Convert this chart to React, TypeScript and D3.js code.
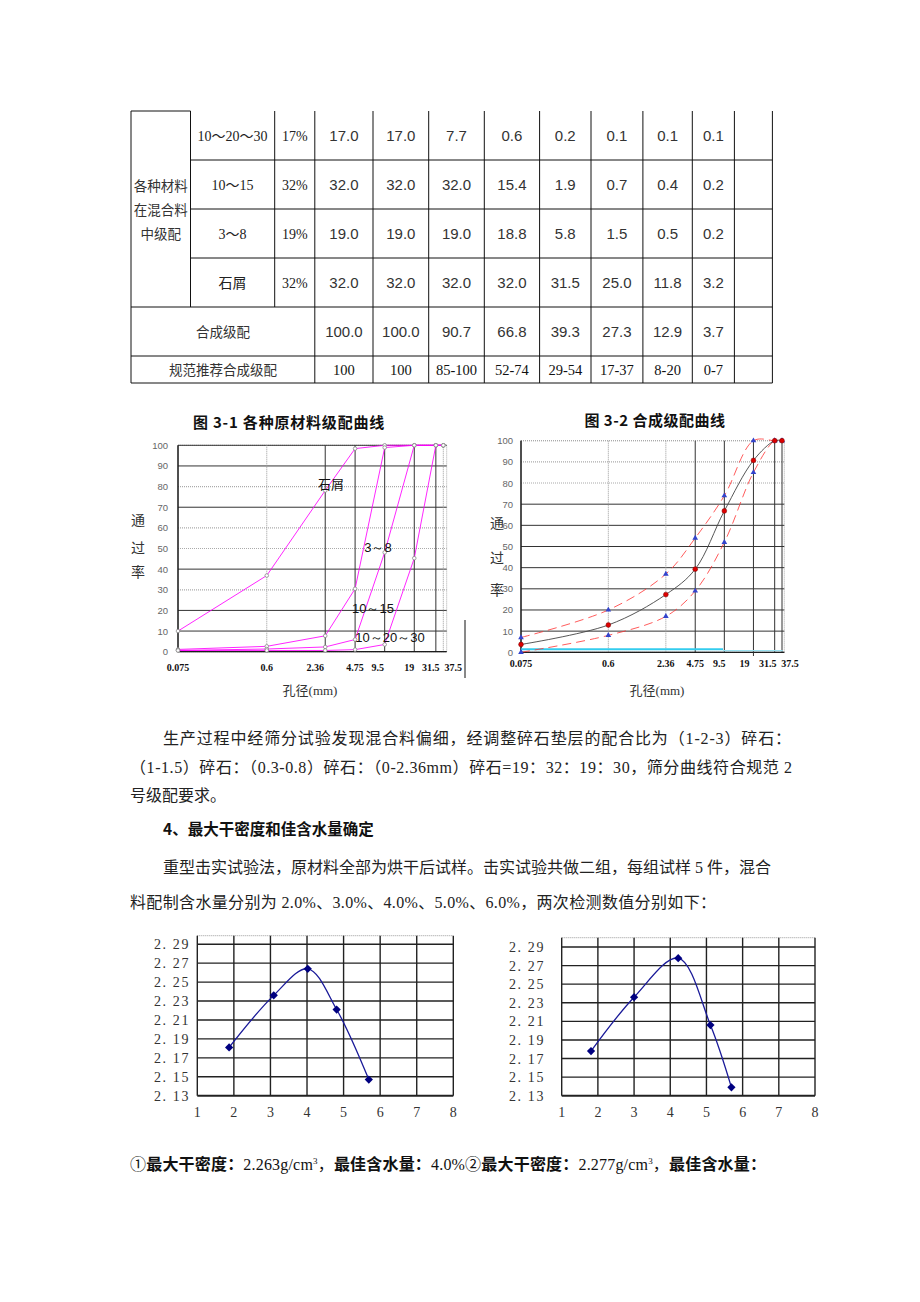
import * as d3 from 'd3';
import React from 'react';

// ---- table data ----
const materialNames = ['10～20～30', '10～15', '3～8', '石屑'];
const materialShares = ['17%', '32%', '19%', '32%'];
const materialRows = [
  ['17.0', '17.0', '7.7', '0.6', '0.2', '0.1', '0.1', '0.1'],
  ['32.0', '32.0', '32.0', '15.4', '1.9', '0.7', '0.4', '0.2'],
  ['19.0', '19.0', '19.0', '18.8', '5.8', '1.5', '0.5', '0.2'],
  ['32.0', '32.0', '32.0', '32.0', '31.5', '25.0', '11.8', '3.2'],
];
const compositeRow = ['100.0', '100.0', '90.7', '66.8', '39.3', '27.3', '12.9', '3.7'];
const specRow = ['100', '100', '85-100', '52-74', '29-54', '17-37', '8-20', '0-7'];

// ---- gradation charts (sieve sizes ascending) ----
const sieves = [0.075, 0.6, 2.36, 4.75, 9.5, 19, 31.5, 37.5];
const sieveLabels = ['0.075', '0.6', '2.36', '4.75', '9.5', '19', '31.5', '37.5'];
const pctTicks = [0, 10, 20, 30, 40, 50, 60, 70, 80, 90, 100];

const passStone = [10, 36.9, 78.1, 98.4, 100, 100, 100, 100];
const pass3to8 = [1.1, 2.6, 7.7, 30.5, 98.9, 100, 100, 100];
const pass10to15 = [0.6, 1.3, 2.3, 5.9, 48.1, 100, 100, 100];
const pass10to30 = [0.6, 0.6, 0.6, 1.0, 3.5, 45.3, 100, 100];

const passComposite = [3.7, 12.9, 27.3, 39.3, 66.8, 90.7, 100, 100];
const passUpper = [7, 20, 37, 54, 74, 100, 100, 100];
const passLower = [0, 8, 17, 29, 52, 85, 100, 100];
const cyanX = [0.075, 9.2];
const cyanY = [1.4, 1.4];
const cyanTailX = [9.2, 38.2];
const cyanTailY = [0.8, 0.8];

// ---- compaction ----
const moistureA = [1.87, 3.09, 4.02, 4.81, 5.69];
const densityA = [2.181, 2.236, 2.264, 2.221, 2.147];
const moistureB = [1.81, 3.0, 4.22, 5.11, 5.69];
const densityB = [2.178, 2.236, 2.278, 2.206, 2.139];
const moistTicks = [1, 2, 3, 4, 5, 6, 7, 8];
const densTicks = [2.13, 2.15, 2.17, 2.19, 2.21, 2.23, 2.25, 2.27, 2.29];

const serif = "'Liberation Serif', 'Noto Sans CJK SC', serif";
const cjk = "'Noto Sans CJK SC', sans-serif";
const sans = "'Liberation Sans', Arial, sans-serif";

const colX = [131, 190.5, 274.7, 314.8, 373, 428.7, 484.3, 539.6, 591, 642.9, 692.3, 734.4, 772.4];
const rowY = [111, 160, 209, 258, 307, 356, 383];

function Table() {
  const mid = (i: number) => (colX[i] + colX[i + 1]) / 2;
  const rmid = (r: number) => (rowY[r] + rowY[r + 1]) / 2;
  const lines: JSX.Element[] = [];
  const L = (x1: number, y1: number, x2: number, y2: number, k: string) =>
    lines.push(<line key={k} x1={x1} y1={y1} x2={x2} y2={y2} stroke="#111" strokeWidth={1} />);
  L(colX[0], rowY[0], colX[1], rowY[0], 'top');
  [1, 2, 3].forEach(r => L(colX[1], rowY[r], colX[12], rowY[r], 'h' + r));
  [4, 5, 6].forEach(r => L(colX[0], rowY[r], colX[12], rowY[r], 'h' + r));
  colX.forEach((x, i) => {
    const bottom = i === 1 || i === 2 ? rowY[4] : rowY[6];
    L(x, rowY[0], x, bottom, 'v' + i);
  });
  return (
    <g>
      {lines}
      {['各种材料', '在混合料', '中级配'].map((t, i) => (
        <text key={t} x={mid(0)} y={191 + i * 24} textAnchor="middle" fontFamily={cjk} fontSize={13.5} fill="#333">{t}</text>
      ))}
      {materialNames.map((n, r) => (
        <g key={n}>
          <text x={mid(1)} y={rmid(r) + 5} textAnchor="middle" fontFamily={serif} fontSize={14} fill="#222">{n}</text>
          <text x={mid(2)} y={rmid(r) + 5} textAnchor="middle" fontFamily={serif} fontSize={14} fill="#222">{materialShares[r]}</text>
          {materialRows[r].map((v, c) => (
            <text key={c} x={mid(3 + c)} y={rmid(r) + 5.5} textAnchor="middle" fontFamily={sans} fontSize={15} fill="#333">{v}</text>
          ))}
        </g>
      ))}
      <text x={(colX[0] + colX[3]) / 2} y={rmid(4) + 5} textAnchor="middle" fontFamily={cjk} fontSize={13.5} fill="#333">合成级配</text>
      {compositeRow.map((v, c) => (
        <text key={c} x={mid(3 + c)} y={rmid(4) + 5.5} textAnchor="middle" fontFamily={sans} fontSize={15} fill="#333">{v}</text>
      ))}
      <text x={(colX[0] + colX[3]) / 2} y={rmid(5) + 5} textAnchor="middle" fontFamily={cjk} fontSize={13.5} fill="#333">规范推荐合成级配</text>
      {specRow.map((v, c) => (
        <text key={c} x={mid(3 + c)} y={rmid(5) + 5} textAnchor="middle" fontFamily={serif} fontSize={14.5} fill="#111">{v}</text>
      ))}
    </g>
  );
}

type GradProps = {
  x0: number; x1: number; frameRight: number; yTop: number; yBottom: number;
  lightH: number[]; lightV: number[]; labelDx: number[]; tickRight: number;
  labelY: number; children: (x: d3.ScaleLogarithmic<number, number>, y: d3.ScaleLinear<number, number>) => React.ReactNode;
};

function GradFrame(p: GradProps) {
  const x = d3.scaleLog().domain([0.075, 37.5]).range([p.x0, p.x1]);
  const y = d3.scaleLinear().domain([0, 100]).range([p.yBottom, p.yTop]);
  return (
    <g>
      <rect x={p.x0} y={p.yTop} width={p.frameRight - p.x0} height={p.yBottom - p.yTop} fill="none" stroke="#aaa" strokeDasharray="1,1" />
      {pctTicks.map(t => {
        const light = p.lightH.includes(t);
        return (
          <g key={t}>
            <line x1={p.x0} x2={p.frameRight} y1={y(t)} y2={y(t)} stroke={light ? '#aaa' : '#333'} strokeWidth={light ? 1.2 : 1} strokeDasharray={light ? '1,1' : undefined} />
            <text x={p.tickRight} y={y(t) + 3.5} textAnchor="end" fontFamily={sans} fontSize={9.5} fill="#666">{t}</text>
          </g>
        );
      })}
      {sieves.map((s, i) => {
        const light = p.lightV.includes(s);
        return (
          <g key={s}>
            <line x1={x(s)} x2={x(s)} y1={p.yTop} y2={p.yBottom} stroke={light ? '#999' : '#333'} strokeDasharray={light ? '1,1' : undefined} />
            <text x={x(s) + p.labelDx[i]} y={p.labelY} textAnchor="middle" fontFamily={serif} fontWeight="bold" fontSize={10} fill="#111">{sieveLabels[i]}</text>
          </g>
        );
      })}
      <line x1={p.x0} x2={p.x0} y1={p.yTop} y2={p.yBottom} stroke="#111" />
      <line x1={p.x0} x2={p.frameRight} y1={p.yBottom} y2={p.yBottom} stroke="#111" />
      {p.children(x, y)}
    </g>
  );
}

function Chart31() {
  const curves = [passStone, pass3to8, pass10to15, pass10to30];
  return (
    <g>
      <text x={289} y={428} textAnchor="middle" fontFamily={cjk} fontWeight="bold" fontSize={15} letterSpacing={0.8} fill="#111">图 3-1 各种原材料级配曲线</text>
      {['通', '过', '率'].map((t, i) => (
        <text key={t} x={138} y={[525, 553, 577][i]} textAnchor="middle" fontFamily={cjk} fontSize={14} fill="#333">{t}</text>
      ))}
      <text x={310} y={695} textAnchor="middle" fontFamily={serif} fontSize={13} fill="#333">孔径(mm)</text>
      <line x1={465} x2={465} y1={620} y2={678} stroke="#111" />
      <GradFrame x0={178} x1={443.3} frameRight={446.7} yTop={445.3} yBottom={651.7}
        lightH={[80, 60, 50, 30]} lightV={[0.6, 37.5]} labelDx={[0, 0, -10, 0, -7, -5, -5, 10]}
        tickRight={168} labelY={671}>
        {(x, y) => {
          const line = d3.line<number>().x((_, i) => x(sieves[i])).y(d => y(d));
          return (
            <g>
              {curves.map((c, k) => (
                <g key={k}>
                  <path d={line(c) || ''} fill="none" stroke="#f0f" strokeWidth={1} strokeOpacity={0.85} />
                  {c.map((v, i) => (
                    <circle key={i} cx={x(sieves[i])} cy={y(v)} r={1.8} fill="#fff" stroke="#888" strokeWidth={0.8} />
                  ))}
                </g>
              ))}
              <text x={331} y={489} textAnchor="middle" fontFamily={cjk} fontSize={13} fill="#111">石屑</text>
              <text x={378} y={552} textAnchor="middle" fontFamily={sans} fontSize={13} fill="#111">3～8</text>
              <text x={373} y={613} textAnchor="middle" fontFamily={sans} fontSize={13} fill="#111">10～15</text>
              <text x={390} y={642} textAnchor="middle" fontFamily={sans} fontSize={13} fill="#111">10～20～30</text>
            </g>
          );
        }}
      </GradFrame>
    </g>
  );
}

function Chart32() {
  return (
    <g>
      <text x={655} y={426} textAnchor="middle" fontFamily={cjk} fontWeight="bold" fontSize={15} letterSpacing={0.5} fill="#111">图 3-2 合成级配曲线</text>
      {['通', '过', '率'].map((t, i) => (
        <text key={t} x={497} y={[528, 563, 595][i]} textAnchor="middle" fontFamily={cjk} fontSize={14} fill="#333">{t}</text>
      ))}
      <text x={657} y={695} textAnchor="middle" fontFamily={serif} fontSize={13} fill="#333">孔径(mm)</text>
      <GradFrame x0={521} x1={782} frameRight={784.3} yTop={440.7} yBottom={652.3}
        lightH={[100, 90, 80]} lightV={[0.6, 2.36]} labelDx={[0, 0, 0, 0, -5, -9, -7, 8]}
        tickRight={513} labelY={667}>
        {(x, y) => {
          const line = d3.line<number>().x((_, i) => x(sieves[i])).y(d => y(d)).curve(d3.curveCatmullRom.alpha(0.5));
          const tri = d3.symbol(d3.symbolTriangle).size(14)() || '';
          const cyan = d3.line<number>().x(d => x(d));
          return (
            <g>
              <path d={cyan.y((_, i) => y(cyanY[i]))(cyanX) || ''} stroke="#33ccee" strokeWidth={2} fill="none" />
              <path d={cyan.y((_, i) => y(cyanTailY[i]))(cyanTailX) || ''} stroke="#99e0f0" strokeWidth={1.2} fill="none" />
              <line x1={x(19)} x2={x(19)} y1={652.3} y2={656} stroke="#333" />
              {[passUpper, passLower].map((c, k) => (
                <g key={k}>
                  <path d={line(c) || ''} fill="none" stroke="#f33" strokeWidth={1} strokeDasharray="9,5" strokeOpacity={0.8} />
                  {c.map((v, i) => (
                    <path key={i} d={tri} transform={`translate(${x(sieves[i])},${y(v)})`} fill="#3344cc" />
                  ))}
                </g>
              ))}
              <path d={line(passComposite) || ''} fill="none" stroke="#444" strokeWidth={0.9} />
              {passComposite.map((v, i) => (
                <circle key={i} cx={x(sieves[i])} cy={y(v)} r={2.4} fill="#d00" stroke="#700" strokeWidth={0.5} />
              ))}
            </g>
          );
        }}
      </GradFrame>
    </g>
  );
}

function Compaction({ x0, x1, yTop, yBottom, yMax, labelRight, mx, dy }: {
  x0: number; x1: number; yTop: number; yBottom: number; yMax: number; labelRight: number; mx: number[]; dy: number[];
}) {
  const x = d3.scaleLinear().domain([1, 8]).range([x0, x1]);
  const y = d3.scaleLinear().domain([2.13, yMax]).range([yBottom, yTop]);
  const line = d3.line<number>().x((_, i) => x(mx[i])).y(d => y(d)).curve(d3.curveCatmullRom.alpha(0.5));
  const square = d3.symbol(d3.symbolSquare).size(34)() || '';
  const fmt = d3.format('.2f');
  return (
    <g>
      <line x1={x0} x2={x1} y1={yTop} y2={yTop} stroke="#999" strokeDasharray="1,1" />
      {densTicks.map(t => (
        <g key={t}>
          {t > 2.13 && <line x1={x0} x2={x1} y1={y(t)} y2={y(t)} stroke="#222" strokeWidth={1.4} />}
          <text x={labelRight} y={y(t) + 5} textAnchor="end" fontFamily={serif} fontSize={14} letterSpacing={1.6} fill="#333">{fmt(t).replace('.', '. ')}</text>
        </g>
      ))}
      {moistTicks.map(t => (
        <g key={t}>
          {t > 1 && <line x1={x(t)} x2={x(t)} y1={yTop} y2={yBottom} stroke="#222" strokeWidth={1.4} />}
          <text x={x(t)} y={yBottom + 21} textAnchor="middle" fontFamily={serif} fontSize={14} fill="#333">{t}</text>
        </g>
      ))}
      <line x1={x0} x2={x0} y1={yTop} y2={yBottom} stroke="#222" strokeWidth={1.4} />
      <line x1={x0} x2={x1} y1={yBottom} y2={yBottom} stroke="#222" strokeWidth={2} />
      <path d={line(dy) || ''} fill="none" stroke="#1a1a99" strokeWidth={1.3} />
      {dy.map((v, i) => (
        <path key={i} d={square} transform={`translate(${x(mx[i])},${y(v)}) rotate(45)`} fill="#000080" />
      ))}
    </g>
  );
}

function Body() {
  const t = (x: number, y: number, s: string, len?: number, bold?: boolean) => (
    <text x={x} y={y} fontFamily={serif} fontSize={16} fill="#222" fontWeight={bold ? 'bold' : 'normal'}
      textLength={len} lengthAdjust="spacing">{s}</text>
  );
  return (
    <g>
      {t(163, 744, '生产过程中经筛分试验发现混合料偏细，经调整碎石垫层的配合比为（1-2-3）碎石：', 628)}
      {t(130, 773, '（1-1.5）碎石：（0.3-0.8）碎石：（0-2.36mm）碎石=19：32：19：30，筛分曲线符合规范 2', 662)}
      {t(130, 801, '号级配要求。')}
      <text x={163} y={835} fontFamily={cjk} fontSize={15.5} fontWeight="bold" fill="#111">4、最大干密度和佳含水量确定</text>
      {t(163, 873, '重型击实试验法，原材料全部为烘干后试样。击实试验共做二组，每组试样 5 件，混合', 608)}
      {t(130, 908, '料配制含水量分别为 2.0%、3.0%、4.0%、5.0%、6.0%，两次检测数值分别如下：', 586)}
      <text x={130} y={1170} fontFamily={serif} fontSize={16} fill="#111" textLength={636} lengthAdjust="spacing">
        <tspan>①</tspan>
        <tspan fontFamily={cjk} fontWeight="bold">最大干密度：</tspan>
        <tspan>2.263g/cm</tspan><tspan fontSize={9} dy={-6}>3</tspan><tspan dy={6}>，</tspan>
        <tspan fontFamily={cjk} fontWeight="bold">最佳含水量：</tspan>
        <tspan>4.0%②</tspan>
        <tspan fontFamily={cjk} fontWeight="bold">最大干密度：</tspan>
        <tspan>2.277g/cm</tspan><tspan fontSize={9} dy={-6}>3</tspan><tspan dy={6}>，</tspan>
        <tspan fontFamily={cjk} fontWeight="bold">最佳含水量：</tspan>
      </text>
    </g>
  );
}

export default function App() {
  return (
    <svg width={920} height={1302} style={{ position: 'absolute', left: 0, top: 0, background: '#fff' }}>
      <rect width={920} height={1302} fill="#fff" />
      <Table />
      <Chart31 />
      <Chart32 />
      <Body />
      <Compaction x0={197.3} x1={453.3} yTop={935.7} yBottom={1095.7} yMax={2.299} labelRight={190} mx={moistureA} dy={densityA} />
      <Compaction x0={561.7} x1={815} yTop={937.7} yBottom={1095.7} yMax={2.30} labelRight={545} mx={moistureB} dy={densityB} />
    </svg>
  );
}
